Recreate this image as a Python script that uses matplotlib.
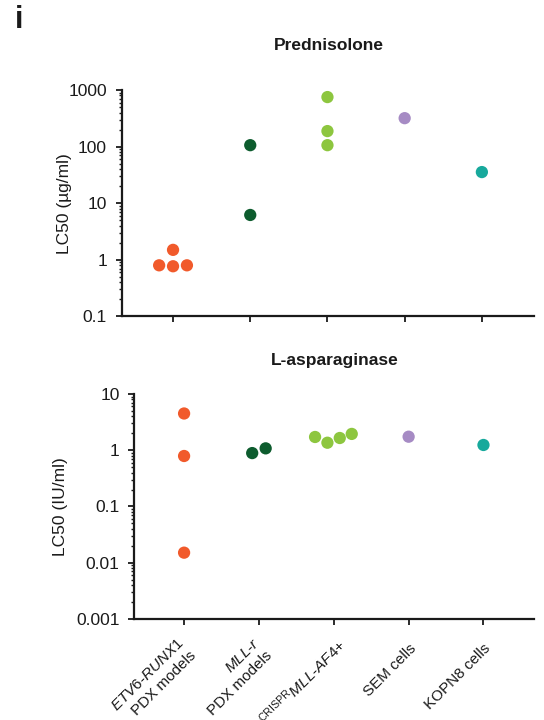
import matplotlib
matplotlib.use("Agg")
import matplotlib.pyplot as plt
import matplotlib.ticker as mticker
import matplotlib.transforms as mtransforms

plt.rcParams['font.family'] = ['Liberation Sans', 'DejaVu Sans']
plt.rcParams['mathtext.fontset'] = 'custom'
plt.rcParams['mathtext.rm'] = 'Liberation Sans'
plt.rcParams['mathtext.it'] = 'Liberation Sans:italic'
plt.rcParams['mathtext.bf'] = 'Liberation Sans:bold'

# groups along x
groups = ["ETV6-RUNX1 PDX", "MLL-r PDX", "CRISPR MLL-AF4+", "SEM", "KOPN8"]
group_labels = [
    "$\\mathit{ETV6\u2010RUNX1}$\nPDX models",
    "$\\mathit{MLL\u2010r}$\nPDX models",
    "${}^{\\mathrm{CRISPR}}\\mathit{MLL\u2010AF4}$+",
    "SEM cells",
    "KOPN8 cells",
]
colors = ["#F15A2B", "#0D5C2E", "#8DC63F", "#A68BC4", "#17A99C"]

# Prednisolone LC50 (ug/ml), with horizontal jitter of each dot
pred_vals = [
    [0.80, 1.5, 0.77, 0.80],
    [106, 6.2],
    [750, 188, 106],
    [318],
    [35.5],
]
pred_jit = [
    [-0.18, 0.0, 0.0, 0.18],
    [0.0, 0.0],
    [0.0, 0.0, 0.0],
    [0.0],
    [0.0],
]

# L-asparaginase LC50 (IU/ml)
asp_vals = [
    [4.5, 0.79, 0.0151],
    [0.89, 1.08],
    [1.72, 1.36, 1.65, 1.95],
    [1.74],
    [1.24],
]
asp_jit = [
    [0.0, 0.0, 0.0],
    [-0.09, 0.09],
    [-0.25, -0.085, 0.08, 0.24],
    [0.0],
    [0.0],
]

fig = plt.figure(figsize=(5.44, 7.2), dpi=100)
ax1 = fig.add_axes([0.2237, 0.5605, 0.7579, 0.3145])
ax2 = fig.add_axes([0.2469, 0.1403, 0.7347, 0.3125])

FS = 12.5


def style(ax, ylim, ylabel, labx):
    ax.set_yscale('log')
    ax.set_ylim(*ylim)
    ax.set_xlim(-0.665, 4.675)
    for s in ['top', 'right']:
        ax.spines[s].set_visible(False)
    for s in ['left', 'bottom']:
        ax.spines[s].set_linewidth(1.6)
        ax.spines[s].set_color('#1a1a1a')
    ax.yaxis.set_major_locator(mticker.LogLocator(base=10, numticks=10))
    ax.yaxis.set_minor_locator(mticker.LogLocator(base=10, subs=range(2, 10), numticks=10))
    ax.yaxis.set_major_formatter(mticker.FuncFormatter(lambda v, p: '{:g}'.format(v)))
    ax.yaxis.set_minor_formatter(mticker.NullFormatter())
    ax.tick_params(axis='y', which='major', length=4.5, width=1.3, pad=6, labelsize=FS, colors='#1a1a1a')
    ax.tick_params(axis='y', which='minor', length=2.5, width=1.0, colors='#1a1a1a')
    ax.set_xticks(range(len(groups)))
    ax.tick_params(axis='x', length=4.5, width=1.3, colors='#1a1a1a')
    ax.set_xticklabels([])
    ax.set_ylabel(ylabel, fontsize=FS, color='#1a1a1a')
    ax.yaxis.set_label_coords(labx, 0.5)


def dots(ax, vals, jit):
    for i, (v, j) in enumerate(zip(vals, jit)):
        ax.scatter([i + d for d in j], v, s=78, color=colors[i], edgecolors='none', zorder=3, clip_on=False)


style(ax1, (0.1, 1000), "LC50 (\u00b5g/ml)", -0.12)
style(ax2, (0.001, 10), "LC50 (IU/ml)", -0.165)
dots(ax1, pred_vals, pred_jit)
dots(ax2, asp_vals, asp_jit)

fig.text(0.605, 0.9375, "Prednisolone", ha='center', va='center', fontsize=FS, fontweight='bold', color='#1a1a1a')
fig.text(0.616, 0.499, "L-asparaginase", ha='center', va='center', fontsize=FS, fontweight='bold', color='#1a1a1a')
fig.text(0.027, 0.972, "i", ha='left', va='center', fontsize=22, fontweight='bold', color='#1a1a1a')

# rotated category labels under the lower panel (offsets in px)
lab_dx = [4, 5, 9, 5, 5]
lab_dy = [-28, -28, -23, -27, -27]
for i, lab in enumerate(group_labels):
    off = mtransforms.ScaledTranslation(lab_dx[i] / 100, lab_dy[i] / 100, fig.dpi_scale_trans)
    ax2.text(i, 0, lab, transform=ax2.get_xaxis_transform() + off,
             rotation=45, rotation_mode='anchor', ha='right', va='center',
             multialignment='right', fontsize=11, color='#1a1a1a', linespacing=1.3)

fig.savefig("out.png", dpi=100)
